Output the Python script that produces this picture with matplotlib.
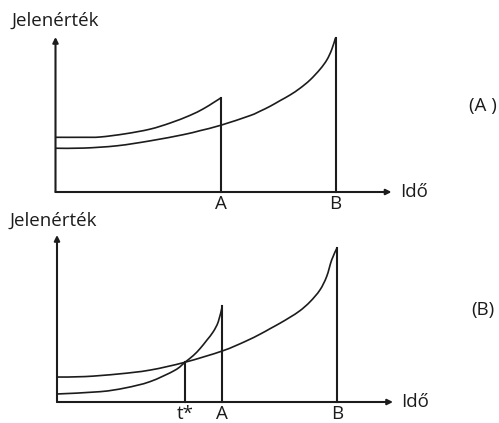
import matplotlib
matplotlib.use("Agg")
import matplotlib.pyplot as plt
from matplotlib.path import Path
from matplotlib.patches import PathPatch

plt.rcParams['font.family'] = ['Open Sans', 'DejaVu Sans']

# Horizon points on the time axis
t_A = 5.9
t_B = 10.0
t_star = 4.57

# Panel (A): present value of the two projects over time
a_short_t = [0.0, 1.0, 1.6, 2.5, 3.38, 4.1, 4.8, 5.28, 5.64, 5.9]
a_short_v = [3.55, 3.55, 3.57, 3.78, 4.08, 4.48, 4.97, 5.40, 5.80, 6.10]
a_long_t = [0.0, 1.0, 2.2, 3.38, 4.56, 5.16, 5.9, 6.95, 7.30, 7.66, 8.02,
            8.38, 8.73, 9.09, 9.45, 9.69, 9.86, 10.0]
a_long_v = [2.84, 2.85, 3.0, 3.32, 3.72, 3.98, 4.33, 4.96, 5.24, 5.56, 5.93,
            6.30, 6.73, 7.27, 7.97, 8.57, 9.22, 10.0]

# Panel (B): paths crossing at t*
b_short_t = [0.0, 1.54, 2.43, 3.32, 4.21, 4.57, 4.87, 5.11, 5.35, 5.58,
             5.76, 5.9]
b_short_v = [0.52, 0.67, 0.91, 1.32, 2.06, 2.58, 3.02, 3.47, 4.01, 4.56,
             5.21, 6.20]
b_long_t = [0.0, 1.0, 2.2, 3.32, 4.57, 5.9, 6.71, 7.25, 7.61, 7.96,
            8.32, 8.68, 9.04, 9.39, 9.63, 9.81, 10.0]
b_long_v = [1.62, 1.65, 1.82, 2.07, 2.58, 3.31, 3.92, 4.40, 4.76, 5.11,
            5.50, 5.93, 6.51, 7.27, 8.14, 9.22, 10.0]

W, H = 499, 423
fig = plt.figure(figsize=(W / 100, H / 100), dpi=100)
fig.patch.set_facecolor('white')

INK = '#1c1c1c'
FS = 13.5
x_end = 12.0


def add_panel(left, base, width, height, ytop):
    ax = fig.add_axes([left / W, (H - base) / H, width / W, height / H])
    ax.set_xlim(0, x_end)
    ax.set_ylim(0, ytop)
    ax.set_axis_off()
    arrow = dict(arrowstyle='-|>', lw=1.5, color=INK, mutation_scale=8,
                 shrinkA=0, shrinkB=0)
    ax.annotate('', xy=(x_end, 0), xytext=(0, 0), arrowprops=arrow,
                annotation_clip=False)
    ax.annotate('', xy=(0, ytop), xytext=(0, 0), arrowprops=arrow,
                annotation_clip=False)
    return ax


def smooth_curve(ax, xs, ys):
    """Draw a smooth Bezier path passing through every (x, y) point."""
    pts = list(zip(xs, ys))
    n = len(pts)
    verts = [pts[0]]
    codes = [Path.MOVETO]
    for i in range(n - 1):
        p0 = pts[i - 1] if i > 0 else pts[i]
        p1 = pts[i]
        p2 = pts[i + 1]
        p3 = pts[i + 2] if i + 2 < n else pts[i + 1]
        c1 = (p1[0] + (p2[0] - p0[0]) / 6, p1[1] + (p2[1] - p0[1]) / 6)
        c2 = (p2[0] - (p3[0] - p1[0]) / 6, p2[1] - (p3[1] - p1[1]) / 6)
        verts += [c1, c2, p2]
        codes += [Path.CURVE4] * 3
    patch = PathPatch(Path(verts, codes), facecolor='none', edgecolor=INK,
                      lw=1.2, clip_on=False, capstyle='butt')
    ax.add_patch(patch)


def tick_label(ax, x, s):
    ax.annotate(s, xy=(x, 0), xytext=(0, -2.5), textcoords='offset points',
                ha='center', va='top', fontsize=FS, color=INK,
                annotation_clip=False)


def time_label(ax):
    ax.annotate('Idő', xy=(x_end, 0), xytext=(6, 0),
                textcoords='offset points', ha='left', va='center',
                fontsize=FS, color=INK, annotation_clip=False)


vline = dict(color=INK, lw=1.5, clip_on=False)

# ---- Panel (A)
ax1 = add_panel(55.5, 192, 12 * 28, 155, 10.06)
smooth_curve(ax1, a_short_t, a_short_v)
smooth_curve(ax1, a_long_t, a_long_v)
ax1.plot([t_A, t_A], [0, a_short_v[-1]], **vline)
ax1.plot([t_B, t_B], [0, a_long_v[-1]], **vline)
tick_label(ax1, t_A, 'A')
tick_label(ax1, t_B, 'B')
time_label(ax1)

# ---- Panel (B)
ax2 = add_panel(57, 402, 12 * 28, 167, 10.84)
smooth_curve(ax2, b_short_t, b_short_v)
smooth_curve(ax2, b_long_t, b_long_v)
ax2.plot([t_star, t_star], [0, b_short_v[b_short_t.index(t_star)]], **vline)
ax2.plot([t_A, t_A], [0, b_short_v[-1]], **vline)
ax2.plot([t_B, t_B], [0, b_long_v[-1]], **vline)
tick_label(ax2, t_star, 't*')
tick_label(ax2, t_A, 'A')
tick_label(ax2, t_B, 'B')
time_label(ax2)

# Axis titles and panel tags
fig.text(11 / W, 1 - 21 / H, 'Jelenérték', ha='left', va='center',
         fontsize=FS, color=INK)
fig.text(10 / W, 1 - 221 / H, 'Jelenérték', ha='left', va='center',
         fontsize=FS, color=INK)
fig.text(469 / W, 1 - 106 / H, '(A )', ha='left', va='center',
         fontsize=FS, color=INK)
fig.text(471 / W, 1 - 310 / H, '(B)', ha='left', va='center',
         fontsize=FS, color=INK)

fig.savefig('out.png', dpi=100, facecolor='white')
